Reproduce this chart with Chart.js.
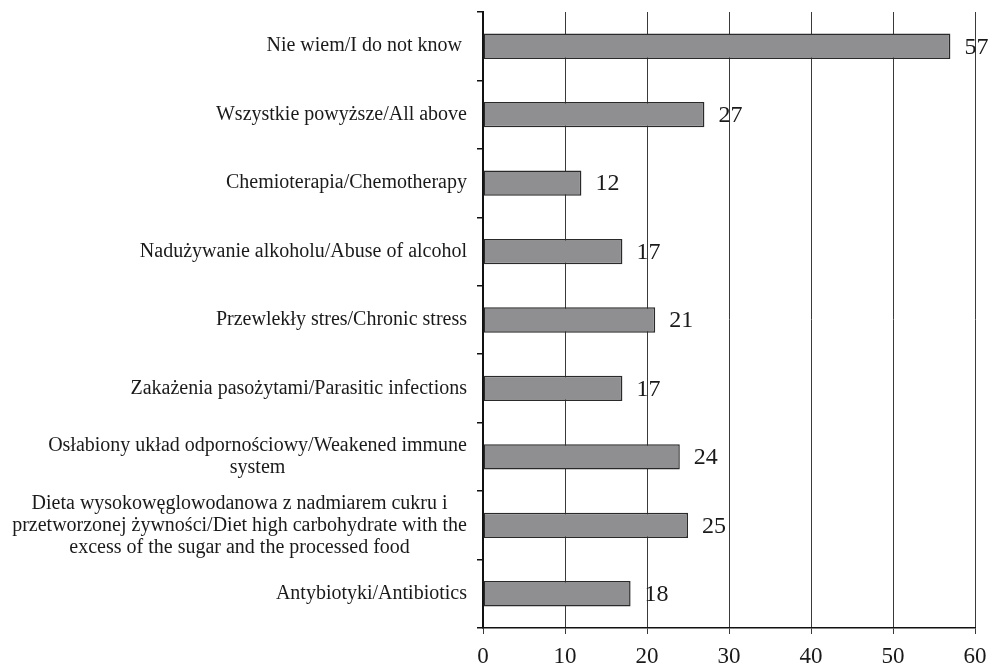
<!DOCTYPE html>
<html>
<head>
<meta charset="utf-8">
<script src="https://cdn.jsdelivr.net/npm/chart.js@4/dist/chart.umd.min.js"></script>
<style>
  html, body { margin: 0; padding: 0; background: #fff; }
  #wrap { width: 992px; height: 664px; position: relative; }
</style>
</head>
<body>
<div id="wrap"><canvas id="c"></canvas></div>
<script>
// Categories (top to bottom), each an array of lines
const categories = [
  ["Nie wiem/I do not know "],
  ["Wszystkie powyższe/All above"],
  ["Chemioterapia/Chemotherapy"],
  ["Nadużywanie alkoholu/Abuse of alcohol"],
  ["Przewlekły stres/Chronic stress"],
  ["Zakażenia pasożytami/Parasitic infections"],
  ["Osłabiony układ odpornościowy/Weakened immune", "system"],
  ["Dieta wysokowęglowodanowa z nadmiarem cukru i", "przetworzonej żywności/Diet high carbohydrate with the", "excess of the sugar and the processed food"],
  ["Antybiotyki/Antibiotics"]
];
const values = [57, 27, 12, 17, 21, 17, 24, 25, 18];
const xTicks = [0, 10, 20, 30, 40, 50, 60];

const SERIF = '"Liberation Serif", "Times New Roman", serif';

// Category labels: each block right-aligned next to the axis, lines centred within the block
const categoryLabels = {
  id: 'categoryLabels',
  afterDraw(chart) {
    const ctx = chart.ctx;
    const y = chart.scales.y;
    const right = y.right - 16;
    const lineH = 22;
    ctx.save();
    ctx.font = '20px ' + SERIF;
    ctx.fillStyle = '#1a1a1a';
    ctx.textBaseline = 'middle';
    ctx.textAlign = 'center';
    categories.forEach((lines, i) => {
      const cy = y.getPixelForValue(i);
      const w = Math.max(...lines.map(l => ctx.measureText(l).width));
      const cx = right - w / 2;
      const y0 = cy - (lines.length - 1) * lineH / 2;
      lines.forEach((l, k) => ctx.fillText(l, cx, y0 + k * lineH));
    });
    ctx.restore();
  }
};

// Value labels to the right of each bar
const valueLabels = {
  id: 'valueLabels',
  afterDatasetsDraw(chart) {
    const ctx = chart.ctx;
    const meta = chart.getDatasetMeta(0);
    ctx.save();
    ctx.font = '24px ' + SERIF;
    ctx.fillStyle = '#1a1a1a';
    ctx.textBaseline = 'middle';
    ctx.textAlign = 'left';
    meta.data.forEach((bar, i) => {
      ctx.fillText(String(values[i]), bar.x + 14, bar.y + 1);
    });
    ctx.restore();
  }
};

new Chart(document.getElementById('c'), {
  type: 'bar',
  data: {
    labels: categories.map(l => l.join(' ')),
    datasets: [{
      data: values,
      backgroundColor: '#8f8f92',
      borderColor: '#2a2a2a',
      borderWidth: 1.5,
      borderSkipped: false,
      barPercentage: 0.37,
      categoryPercentage: 1.0
    }]
  },
  options: {
    indexAxis: 'y',
    responsive: true,
    maintainAspectRatio: false,
    animation: false,
    layout: { padding: { left: 0, right: 17, top: 12, bottom: 0 } },
    plugins: {
      legend: { display: false },
      tooltip: { enabled: false }
    },
    scales: {
      x: {
        min: 0,
        max: 60,
        afterBuildTicks(scale) { scale.ticks = xTicks.map(v => ({ value: v })); },
        afterFit(scale) {
          scale.height = 36;
          scale.paddingLeft = 0;
          scale.paddingRight = 0;
        },
        grid: {
          color: '#3a3a3a',
          lineWidth: 1,
          tickLength: 6,
          drawTicks: true
        },
        border: { display: true, color: '#111', width: 1.5 },
        ticks: {
          color: '#1a1a1a',
          font: { family: SERIF, size: 23 },
          padding: 9,
          maxRotation: 0
        }
      },
      y: {
        afterFit(scale) { scale.width = 483; },
        grid: {
          offset: true,
          drawOnChartArea: false,
          drawTicks: true,
          tickLength: 6,
          color: '#111',
          lineWidth: 1.5
        },
        border: { display: true, color: '#111', width: 2 },
        ticks: { display: false }
      }
    }
  },
  plugins: [categoryLabels, valueLabels]
});
</script>
</body>
</html>
